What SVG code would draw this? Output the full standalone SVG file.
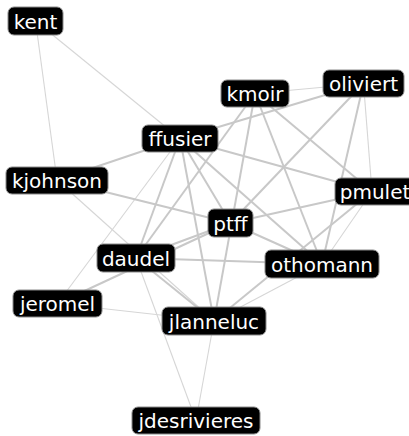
<svg xmlns="http://www.w3.org/2000/svg" width="409" height="436" viewBox="0 0 409 436">
<style>
.m{stroke:#c8c8c8;stroke-width:2;fill:none}
.t{stroke:#d6d6d6;stroke-width:1.1;fill:none}
.n rect{fill:#000;stroke:#8a8a8a;stroke-width:1}
.n text{fill:#fff;font-family:"DejaVu Sans",Verdana,sans-serif;font-size:20px;text-anchor:middle}
</style>
<rect width="409" height="436" fill="#fff"/>
<g id="edges">
<line class="t" x1="35.5" y1="21" x2="57" y2="180"/>
<line class="t" x1="35.5" y1="21" x2="180" y2="138.5"/>
<line class="t" x1="57" y1="180" x2="214" y2="321"/>
<line class="t" x1="180" y1="138.5" x2="57.5" y2="303.5"/>
<line class="t" x1="57.5" y1="303.5" x2="214" y2="321"/>
<line class="t" x1="136" y1="258" x2="196" y2="420.5"/>
<line class="t" x1="214" y1="321" x2="196" y2="420.5"/>
<line class="t" x1="255" y1="93.5" x2="363.5" y2="83.5"/>
<line class="t" x1="363.5" y1="83.5" x2="372" y2="191.5"/>
<line class="t" x1="372" y1="191.5" x2="322" y2="264"/>
<line class="t" x1="322" y1="264" x2="214" y2="321"/>
<line class="m" x1="57" y1="180" x2="180" y2="138.5"/>
<line class="m" x1="57" y1="180" x2="230.5" y2="223"/>
<line class="m" x1="180" y1="138.5" x2="363.5" y2="83.5"/>
<line class="m" x1="180" y1="138.5" x2="372" y2="191.5"/>
<line class="m" x1="180" y1="138.5" x2="230.5" y2="223"/>
<line class="m" x1="180" y1="138.5" x2="322" y2="264"/>
<line class="m" x1="180" y1="138.5" x2="136" y2="258"/>
<line class="m" x1="180" y1="138.5" x2="214" y2="321"/>
<line class="m" x1="255" y1="93.5" x2="136" y2="258"/>
<line class="m" x1="255" y1="93.5" x2="214" y2="321"/>
<line class="m" x1="255" y1="93.5" x2="322" y2="264"/>
<line class="m" x1="255" y1="93.5" x2="372" y2="191.5"/>
<line class="m" x1="363.5" y1="83.5" x2="230.5" y2="223"/>
<line class="m" x1="363.5" y1="83.5" x2="322" y2="264"/>
<line class="m" x1="372" y1="191.5" x2="230.5" y2="223"/>
<line class="m" x1="372" y1="191.5" x2="214" y2="321"/>
<line class="m" x1="230.5" y1="223" x2="322" y2="264"/>
<line class="m" x1="230.5" y1="223" x2="136" y2="258"/>
<line class="m" x1="230.5" y1="223" x2="57.5" y2="303.5"/>
<line class="m" x1="136" y1="258" x2="322" y2="264"/>
<line class="m" x1="136" y1="258" x2="214" y2="321"/>
</g>
<g id="kent" class="n"><rect x="8" y="7" width="55" height="28" rx="6"/><text x="35.5" y="29">kent</text></g>
<g id="kjohnson" class="n"><rect x="6" y="167" width="102" height="27" rx="6"/><text x="57" y="187.5">kjohnson</text></g>
<g id="ffusier" class="n"><rect x="142" y="125" width="76" height="27" rx="6"/><text x="180" y="145.5">ffusier</text></g>
<g id="kmoir" class="n"><rect x="221" y="80" width="68" height="27" rx="6"/><text x="255" y="100.5">kmoir</text></g>
<g id="oliviert" class="n"><rect x="323" y="70" width="81" height="27" rx="6"/><text x="363.5" y="90.5">oliviert</text></g>
<g id="pmulet" class="n"><rect x="335" y="178" width="80" height="27" rx="6"/><text x="375" y="198.5">pmulet</text></g>
<g id="ptff" class="n"><rect x="208" y="209" width="45" height="28" rx="6"/><text x="230.5" y="230.5">ptff</text></g>
<g id="othomann" class="n"><rect x="265" y="250" width="114" height="28" rx="6"/><text x="322" y="271.5">othomann</text></g>
<g id="daudel" class="n"><rect x="97" y="244" width="78" height="28" rx="6"/><text x="136" y="265.5">daudel</text></g>
<g id="jeromel" class="n"><rect x="13" y="290" width="89" height="27" rx="6"/><text x="57.5" y="310.5">jeromel</text></g>
<g id="jlanneluc" class="n"><rect x="162" y="307" width="104" height="28" rx="6"/><text x="214" y="328.5">jlanneluc</text></g>
<g id="jdesrivieres" class="n"><rect x="132" y="407" width="128" height="27" rx="6"/><text x="196" y="427.5">jdesrivieres</text></g>
</svg>
